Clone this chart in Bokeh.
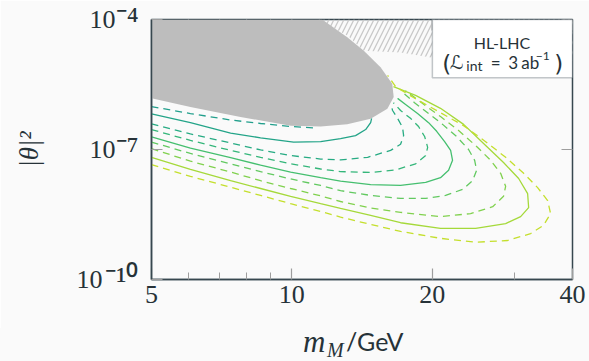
import numpy as np
from bokeh.plotting import figure
from bokeh.layouts import column
from bokeh.models import FixedTicker, Label, BoxAnnotation, LogAxis, Div
from bokeh.embed import file_html
from bokeh.resources import INLINE

# ---------------- data ----------------
x_ticks = [5, 10, 20, 40]
x_tick_labels = ["5", "10", "20", "40"]
x_minor = [6, 7, 8, 9, 30]
y_ticks = [1e-10, 1e-7, 1e-4]
y_tick_bases = ["10\u2007", "10", "10"]
y_tick_exponents = ["⁻¹⁰", "⁻⁷", "⁻⁴"]

# excluded region (grey), mass in GeV, log10 |theta|^2
excl_m = [5.0, 11.62, 13.15, 14.27, 15.50, 16.42, 16.54, 16.03, 14.76, 13.15, 11.53, 9.95, 7.76, 6.06, 5.0]
excl_log = [-4.0, -4.0, -4.41, -4.72, -5.10, -5.48, -5.79, -6.06, -6.29, -6.42, -6.47, -6.45, -6.25, -6.02, -5.82]

# hatched region (top)
hatch_m = [11.4, 40.0, 40.0, 20.05, 17.11, 14.27, 13.2]
hatch_log = [-4.0, -4.0, -4.95, -4.88, -4.76, -4.72, -4.38]

# contour lines: a..i (top to bottom at the left edge)
a_m = [5.0, 6.06, 7.39, 8.57, 9.95, 11.14]
a_log = [-6.01, -6.17, -6.32, -6.40, -6.47, -6.50]

b_m = [5.0, 6.06, 7.39, 8.57, 10.09, 11.53, 12.72, 13.70, 14.40, 14.76, 14.83]
b_log = [-6.18, -6.38, -6.62, -6.73, -6.83, -6.82, -6.75, -6.68, -6.54, -6.38, -6.28]

c_m = [5.0, 6.06, 7.39, 8.57, 9.94, 11.53, 12.72, 14.54, 16.29, 17.11, 17.37, 17.28, 16.86, 16.45, 16.29]
c_log = [-6.41, -6.64, -6.85, -7.01, -7.14, -7.22, -7.24, -7.18, -7.02, -6.88, -6.68, -6.49, -6.28, -6.10, -5.94]

d_m = [5.0, 6.06, 7.39, 8.57, 9.94, 11.53, 12.72, 14.76, 16.70, 18.43, 19.37, 19.56, 19.27, 18.70, 17.97, 17.11, 16.52]
d_log = [-6.54, -6.79, -7.02, -7.18, -7.33, -7.45, -7.51, -7.53, -7.47, -7.33, -7.14, -6.95, -6.70, -6.47, -6.28, -6.10, -5.92]

e_m = [5.0, 6.06, 7.39, 8.57, 9.94, 11.53, 12.72, 14.76, 17.11, 19.37, 20.84, 21.69, 22.12, 21.91, 21.27, 20.45, 19.65, 18.61, 17.54, 16.86]
e_log = [-6.71, -6.97, -7.19, -7.36, -7.52, -7.65, -7.73, -7.81, -7.83, -7.76, -7.65, -7.48, -7.25, -7.02, -6.82, -6.58, -6.38, -6.17, -5.96, -5.82]

f_m = [5.0, 6.06, 7.39, 8.57, 9.94, 11.53, 12.72, 14.76, 17.11, 19.37, 21.37, 23.25, 24.42, 24.91, 24.67, 23.94, 22.56, 21.06, 19.65, 18.33, 17.28]
f_log = [-6.83, -7.09, -7.33, -7.51, -7.68, -7.83, -7.95, -8.06, -8.13, -8.13, -8.06, -7.92, -7.72, -7.48, -7.25, -7.00, -6.70, -6.42, -6.17, -5.92, -5.68]

g_m = [5.0, 6.06, 7.39, 8.57, 9.94, 11.53, 12.72, 14.76, 17.11, 20.84, 24.18, 26.97, 28.45, 28.75, 28.05, 26.70, 24.91, 22.79, 20.84, 19.08, 17.54]
g_log = [-6.98, -7.27, -7.52, -7.72, -7.90, -8.07, -8.20, -8.35, -8.45, -8.55, -8.48, -8.32, -8.08, -7.85, -7.55, -7.25, -6.93, -6.56, -6.24, -5.94, -5.64]

h_m = [5.0, 6.06, 7.39, 8.57, 9.94, 11.53, 12.72, 14.76, 17.11, 20.84, 24.79, 28.75, 30.96, 32.21, 32.05, 30.66, 28.45, 25.78, 23.36, 20.84, 18.43, 16.52]
h_log = [-7.18, -7.46, -7.72, -7.90, -8.08, -8.25, -8.36, -8.52, -8.69, -8.82, -8.82, -8.71, -8.55, -8.34, -8.02, -7.67, -7.30, -6.86, -6.42, -6.05, -5.75, -5.55]

i_m = [5.0, 6.06, 7.39, 8.57, 9.94, 11.53, 12.72, 14.76, 17.11, 20.84, 24.79, 29.04, 32.53, 34.67, 35.90, 35.38, 33.67, 31.43, 28.75, 26.05, 23.36, 20.84, 18.23, 16.70, 16.05]
i_log = [-7.35, -7.62, -7.87, -8.06, -8.25, -8.43, -8.56, -8.73, -8.89, -9.05, -9.14, -9.10, -8.94, -8.75, -8.48, -8.18, -7.88, -7.55, -7.18, -6.82, -6.45, -6.15, -5.80, -5.55, -5.29]

line_sets = [
    (a_m, a_log, "#229f8c", "dashed"),
    (b_m, b_log, "#23a488", "solid"),
    (c_m, c_log, "#27ab83", "dashed"),
    (d_m, d_log, "#34b67a", "dashed"),
    (e_m, e_log, "#45bf6f", "solid"),
    (f_m, f_log, "#62c960", "dashed"),
    (g_m, g_log, "#80d14e", "dashed"),
    (h_m, h_log, "#a5d93a", "solid"),
    (i_m, i_log, "#c4df2c", "dashed"),
]

# ---------------- style ----------------
FRAME = "#37474f"
TEXT = "#263238"
TICK = "#9e9e9e"
BG = "#fafafa"
SERIF = "Liberation Serif"
SANS = "Lato"

p = figure(width=589, height=328, x_axis_type="log", y_axis_type="log",
           x_range=(5, 40), y_range=(1e-10, 1e-4),
           output_backend="svg", toolbar_location=None,
           min_border_left=151, min_border_right=17, min_border_top=19, min_border_bottom=49)
p.background_fill_color = BG
p.border_fill_color = BG
p.outline_line_color = FRAME
p.outline_line_width = 1.5
p.grid.visible = False

def style_axis(ax, size="26px"):
    ax.axis_line_color = FRAME
    ax.axis_line_width = 1.5
    ax.major_tick_line_color = TICK
    ax.minor_tick_line_color = TICK
    ax.major_tick_line_width = 1.2
    ax.minor_tick_line_width = 1.0
    ax.major_tick_in = 11
    ax.major_tick_out = 0
    ax.minor_tick_in = 7
    ax.minor_tick_out = 0
    ax.major_label_text_font = SERIF
    ax.major_label_text_font_size = size
    ax.major_label_text_color = TEXT

xa = p.xaxis[0]
xa.ticker = FixedTicker(ticks=x_ticks, minor_ticks=x_minor)
xa.major_label_overrides = {t: l for t, l in zip(x_ticks, x_tick_labels)}
style_axis(xa)
xa.major_label_standoff = 6

# inner y axis: exponents
ya = p.yaxis[0]
ya.ticker = FixedTicker(ticks=y_ticks, minor_ticks=[])
ya.major_label_overrides = {t: l for t, l in zip(y_ticks, y_tick_exponents)}
style_axis(ya, size="34px")
ya.major_label_standoff = 13

# outer y axis: bases "10" and axis title
yb = LogAxis(ticker=FixedTicker(ticks=y_ticks, minor_ticks=[]))
yb.major_label_overrides = {t: l for t, l in zip(y_ticks, y_tick_bases)}
style_axis(yb)
yb.axis_line_color = None
yb.major_tick_in = 0
yb.major_label_standoff = -13
yb.axis_label = "|θ|²"
yb.axis_label_text_font = SERIF
yb.axis_label_text_font_style = "italic"
yb.axis_label_text_font_size = "27px"
yb.axis_label_text_color = TEXT
yb.axis_label_standoff = 30
p.add_layout(yb, "left")

# mirrored inward ticks (top, right): half of each dash is clipped by the frame
p.scatter(x_ticks, [y_ticks[-1]] * len(x_ticks), marker="dash", angle=np.pi / 2, size=22,
          line_color=TICK, line_width=1.2)
p.scatter(x_minor, [y_ticks[-1]] * len(x_minor), marker="dash", angle=np.pi / 2, size=14,
          line_color=TICK, line_width=1.0)
p.scatter([x_ticks[-1]] * len(y_ticks), y_ticks, marker="dash", size=22,
          line_color=TICK, line_width=1.2)

# hatched region
p.patch(hatch_m, [10 ** v for v in hatch_log], fill_color=None, line_color=None,
        hatch_pattern="/", hatch_color="#c8c8c8", hatch_scale=10, hatch_weight=1.3)

# contour lines
for m, lg, col, style in line_sets:
    p.line(m, [10 ** v for v in lg], line_color=col, line_width=1.3,
           line_dash="7 5" if style == "dashed" else "solid")

# excluded region
p.patch(excl_m, [10 ** v for v in excl_log], fill_color="#bdbdbd", line_color=None)

def lab(x, y, text, dx=0, dy=0, font=SANS, size="16px", style="normal", align="left"):
    p.add_layout(Label(x=x, y=y, x_offset=dx, y_offset=dy, text=text, text_font=font,
                       text_font_size=size, text_font_style=style, text_color=TEXT,
                       text_align=align, text_baseline="alphabetic"))

# legend box
lx, ly = 20.02, y_ticks[-1]
p.add_layout(BoxAnnotation(left=lx, right=x_ticks[-1], bottom=10 ** -5.345, top=ly,
                           fill_color="white", fill_alpha=1.0,
                           line_color=FRAME, line_width=1.5))
lab(lx, ly, "HL-LHC", dx=69.6, dy=-22.7, size="16px", align="center")
lab(lx, ly, "(", dx=10, dy=-44.5, font="DejaVu Sans", size="23px")
lab(lx, ly, "ℒ", dx=17.5, dy=-42.7, font="DejaVu Sans", size="19px")
lab(lx, ly, "int", dx=34, dy=-45.5, size="14px")
lab(lx, ly, "=", dx=58.5, dy=-42.7, size="17px")
lab(lx, ly, "3", dx=76, dy=-42.7, size="17px")
lab(lx, ly, "ab", dx=89, dy=-42.7, size="17px")
lab(lx, ly, "−1", dx=103.5, dy=-36, size="12px")
lab(lx, ly, ")", dx=122, dy=-44.5, font="DejaVu Sans", size="23px")

# x axis title  m_M/GeV (below the figure)
xtitle = Div(width=589, height=33, margin=0, styles={"background-color": BG},
             text=(
                 "<div style='position:relative;width:589px;height:33px;color:%s;'>"
                 "<span style=\"position:absolute;left:303px;top:-2px;line-height:31px;"
                 "font-family:'Liberation Serif';font-style:italic;font-size:31px;\">m</span>"
                 "<span style=\"position:absolute;left:327px;top:12px;line-height:20px;"
                 "font-family:'Liberation Serif';font-style:italic;font-size:20px;\">M</span>"
                 "<span style=\"position:absolute;left:346px;top:1px;line-height:25px;"
                 "font-family:Lato;font-size:25px;\">/GeV</span>"
                 "</div>") % TEXT)

layout = column(p, xtitle, spacing=0)
open("out.html", "w").write(file_html(layout, INLINE))
